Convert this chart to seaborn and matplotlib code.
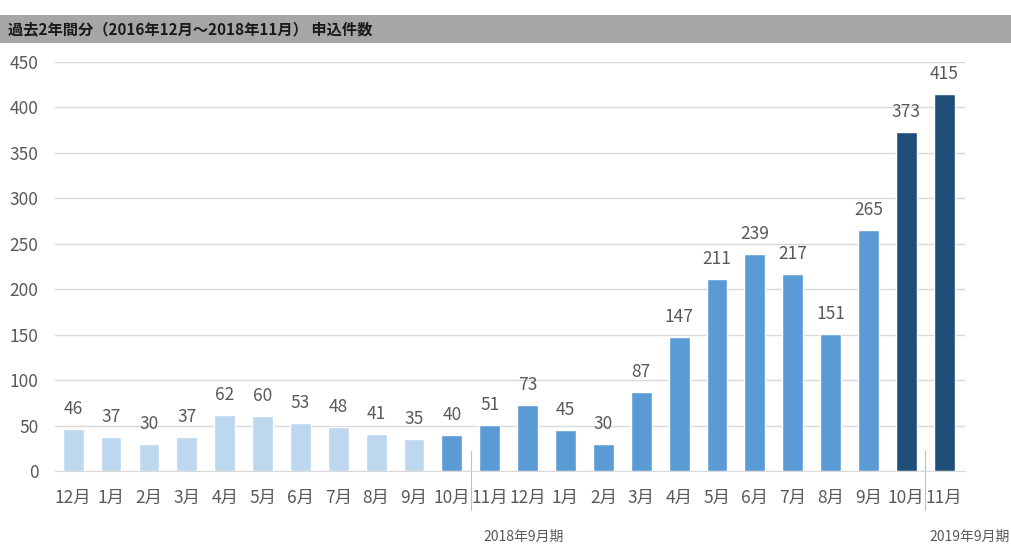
import numpy as np
import pandas as pd
import matplotlib
matplotlib.use("Agg")
import matplotlib.pyplot as plt
import matplotlib.transforms as mtransforms
from matplotlib.patches import Rectangle
import seaborn as sns

# data
months = ["12月", "1月", "2月", "3月", "4月", "5月", "6月", "7月", "8月", "9月", "10月", "11月",
          "12月", "1月", "2月", "3月", "4月", "5月", "6月", "7月", "8月", "9月", "10月", "11月"]
counts = [46, 37, 30, 37, 62, 60, 53, 48, 41, 35, 40, 51,
          73, 45, 30, 87, 147, 211, 239, 217, 151, 265, 373, 415]
groups = ["a"] * 10 + ["b"] * 12 + ["c"] * 2
periods = ["2018年9月期", "2019年9月期"]
title = "過去2年間分（2016年12月～2018年11月） 申込件数"

group_colors = {"a": "#BDD7EE", "b": "#5B9BD5", "c": "#1F4E79"}
txt_col = "#595959"

sns.set_style("white")
plt.rcParams['font.family'] = ['Noto Sans CJK JP', 'DejaVu Sans']

df = pd.DataFrame({"pos": range(len(counts)), "count": counts, "grp": groups})
palette = [group_colors[g] for g in groups]

fig = plt.figure(figsize=(10.12, 5.44), dpi=100)
ax = fig.add_axes([55 / 1012, 1 - 471 / 544, 910 / 1012, 409 / 544])

sns.barplot(data=df, x="pos", y="count", hue="pos", palette=palette,
            legend=False, width=0.55, saturation=1, ax=ax, zorder=3)

for c in ax.containers:
    ax.bar_label(c, padding=8, fontsize=12.5, color=txt_col)

ax.set_xlim(-0.48, 23.55)
ax.set_ylim(0, 450)
ax.set_yticks(np.arange(0, 451, 50))
ax.yaxis.grid(True, color="#D9D9D9", linewidth=1, zorder=0)
ax.set_xticks(range(len(months)))
ax.set_xticklabels(months)
ax.tick_params(axis="both", length=0, labelsize=12.5, labelcolor=txt_col)
ax.tick_params(axis="x", pad=13)
ax.tick_params(axis="y", pad=12)
ax.set_xlabel("")
ax.set_ylabel("")
for s in ["top", "right", "left"]:
    ax.spines[s].set_visible(False)
ax.spines["bottom"].set_color("#D9D9D9")

# period separators and labels
trans = mtransforms.blended_transform_factory(ax.transData, ax.transAxes)
for xs in [10.5, 22.5]:
    ax.plot([xs, xs], [0.05, -0.095], color="#BFBFBF", lw=0.8,
            transform=trans, clip_on=False)
ax.text(11.9, -0.162, periods[0], transform=trans, ha="center", va="center",
        fontsize=10, color=txt_col)
fig.text(1010 / 1012, 1 - 537 / 544, periods[1], ha="right", va="center",
         fontsize=10, color=txt_col)

# header band
fig.patches.append(Rectangle((0, 1 - 43 / 544), 1, 28 / 544, transform=fig.transFigure,
                             facecolor="#A6A6A6", edgecolor="none", zorder=0))
fig.text(8 / 1012, 1 - 29 / 544, title, fontsize=11, fontweight="bold",
         color="#1a1a1a", va="center", ha="left")

fig.savefig("out.png", dpi=100)
